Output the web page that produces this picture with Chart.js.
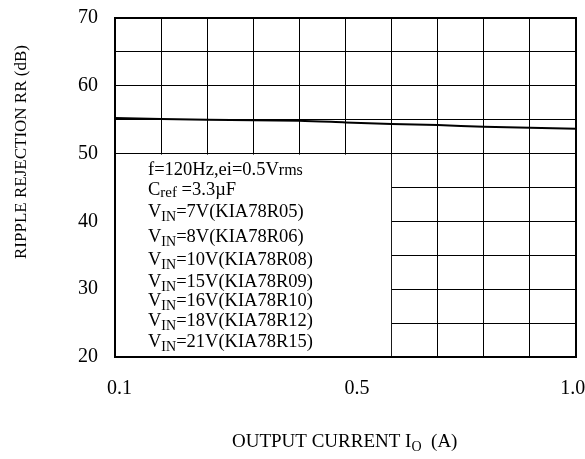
<!DOCTYPE html>
<html><head><meta charset="utf-8">
<script src="https://cdn.jsdelivr.net/npm/chart.js@4/dist/chart.umd.min.js"></script>
<style>html,body{margin:0;padding:0;background:#fff}</style>
</head><body>
<canvas id="c" width="585" height="459"></canvas>
<script>
// ---- data ----
const gridPositions = [0,1,2,3,4,5,6,7,8,9,10];
const xLabelPositions = [0.1,5.25,9.93];
const xTickLabels = ['0.1','0.5','1.0'];
const currentPos = [0,2,4,5,6,7,8,9,10];
const rippleRejection = [55.25,55.0,54.85,54.6,54.35,54.2,53.95,53.8,53.65];
const yTickValues = [20,30,40,50,60,70];
const vinValues = ['7V','8V','10V','15V','16V','18V','21V'];
const partNames = ['KIA78R05','KIA78R06','KIA78R08','KIA78R09','KIA78R10','KIA78R12','KIA78R15'];
const yTitle = 'RIPPLE REJECTION RR (dB)';
const xTitleParts = ['OUTPUT CURRENT I','O','  (A)'];

const FONT = '"Liberation Serif","Times New Roman",serif';
const noteLines = [
  [['f=120Hz,ei=0.5V',0],['rms',1]],
  [['C',0],['ref',2],[' =3.3\u00b5F',0]]
].concat(vinValues.map((v,i)=>[['V',0],['IN',3],['='+v+'('+partNames[i]+')',0]]));
const noteBaselines = [175,195,217,242,265,287,306,326,347];

function drawRich(ctx, x, y, segs){
  for(const [t,k] of segs){
    let size=18.5, dy=0;
    if(k===1){size=16;}
    if(k===2){size=15;dy=2;}
    if(k===3){size=14;dy=4;}
    ctx.font = size+'px '+FONT;
    ctx.fillText(t, x, y+dy);
    x += ctx.measureText(t).width;
  }
}

function noPad(s){ s.paddingLeft=0; s.paddingRight=0; s.paddingTop=0; s.paddingBottom=0; }

const framePlugin = {
  id:'frame',
  beforeDatasetsDraw(chart){
    const {ctx, scales:{x,y}, chartArea:a} = chart;
    ctx.save();
    ctx.fillStyle='#fff';
    const x0=a.left+1, x1=x.getPixelForValue(6)-0.5;
    const y0=y.getPixelForValue(50)+1, y1=a.bottom-1;
    ctx.fillRect(x0,y0,x1-x0,y1-y0);
    ctx.restore();
  },
  afterDatasetsDraw(chart){
    const {ctx, chartArea:a} = chart;
    ctx.save();
    ctx.strokeStyle='#000'; ctx.lineWidth=2;
    ctx.strokeRect(a.left, a.top, a.right-a.left, a.bottom-a.top);
    ctx.fillStyle='#000';
    ctx.textBaseline='alphabetic'; ctx.textAlign='left';
    const tx = a.left+33;
    noteLines.forEach((segs,i)=>drawRich(ctx, tx, noteBaselines[i], segs));
    // y title
    ctx.save();
    ctx.font='17px '+FONT;
    ctx.translate(26, 152);
    ctx.rotate(-Math.PI/2);
    ctx.textAlign='center';
    ctx.fillText(yTitle, 0, 0);
    ctx.restore();
    // x title
    ctx.font='19px '+FONT;
    const w0=ctx.measureText(xTitleParts[0]).width;
    ctx.font='14px '+FONT;
    const w1=ctx.measureText(xTitleParts[1]).width;
    let sx=232;
    const by=447;
    ctx.font='19px '+FONT; ctx.fillText(xTitleParts[0], sx, by); sx+=w0;
    ctx.font='14px '+FONT; ctx.fillText(xTitleParts[1], sx, by+4); sx+=w1;
    ctx.font='19px '+FONT; ctx.fillText(xTitleParts[2], sx, by);
    ctx.restore();
  }
};

new Chart(document.getElementById('c'), {
  type:'line',
  data:{datasets:[{
    xAxisID:'x', yAxisID:'y',
    data: currentPos.map((p,i)=>({x:p,y:rippleRejection[i]})),
    borderColor:'#000', borderWidth:2, pointRadius:0, tension:0.3, fill:false
  }]},
  options:{
    responsive:false, animation:false,
    layout:{padding:{left:0,right:9,top:18,bottom:0}},
    plugins:{legend:{display:false}, tooltip:{enabled:false}},
    scales:{
      x:{type:'linear', min:0, max:10, position:'bottom',
        afterBuildTicks(s){ s.ticks = gridPositions.map(v=>({value:v})); },
        afterFit(s){ s.height = 0; noPad(s); },
        ticks:{display:false},
        grid:{color:'#000', lineWidth:1, drawTicks:false},
        border:{display:false}
      },
      x2:{type:'linear', min:0, max:10, position:'bottom',
        afterBuildTicks(s){ s.ticks = xLabelPositions.map(v=>({value:v})); },
        afterFit(s){ s.height = 102; noPad(s); },
        ticks:{callback:(v)=>xTickLabels[xLabelPositions.indexOf(v)] ?? '', color:'#000', font:{family:FONT,size:20}, padding:20, maxRotation:0, autoSkip:false},
        grid:{display:false, drawTicks:false},
        border:{display:false}
      },
      y:{type:'linear', min:20, max:70,
        ticks:{stepSize:5, callback:(v)=>yTickValues.includes(v)? String(v):'', color:'#000', font:{family:FONT,size:20}, padding:17, autoSkip:false},
        afterFit(s){ s.width = 115; noPad(s); },
        grid:{color:'#000', lineWidth:1, drawTicks:false},
        border:{display:false}
      }
    }
  },
  plugins:[framePlugin]
});
</script>
</body></html>
